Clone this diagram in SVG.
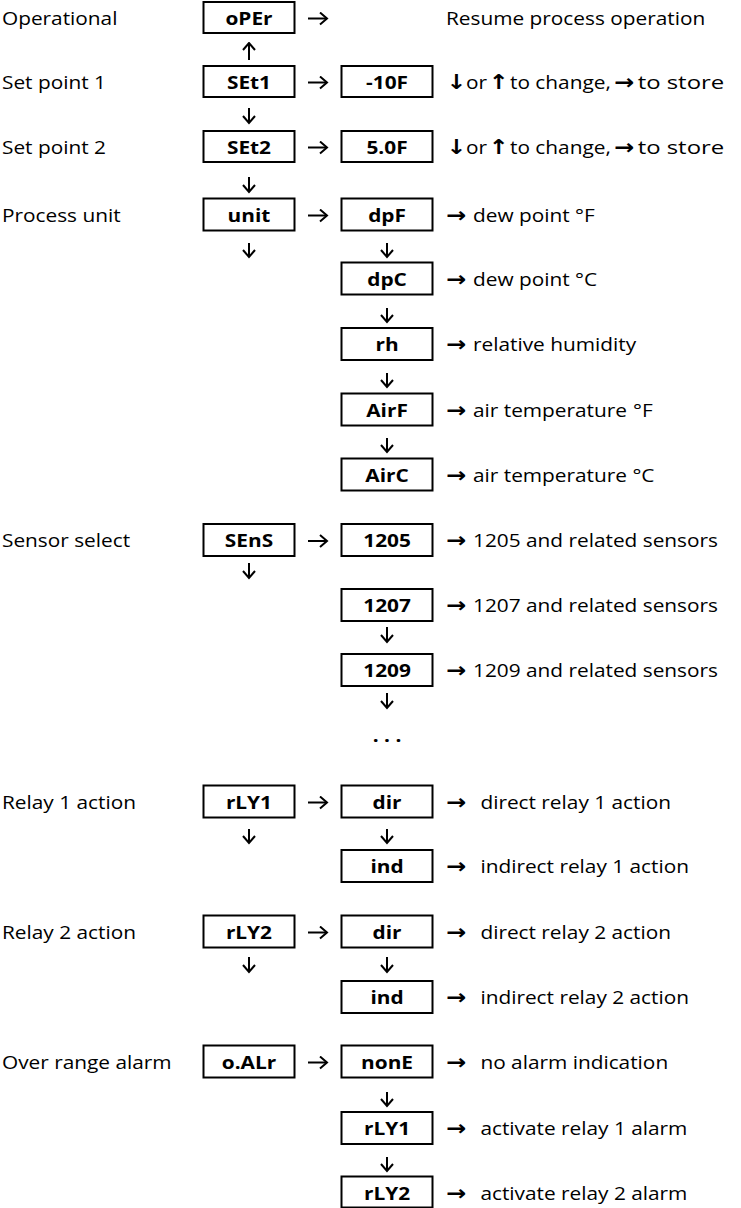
<svg xmlns="http://www.w3.org/2000/svg" width="741" height="1208" viewBox="0 0 741 1208">
<style>
.bg{fill:#fff}
.box{fill:#fff;stroke:#000;stroke-width:2}
.bt{font-family:"Open Sans","Noto Sans",sans-serif;font-weight:bold;font-size:17.8px;text-anchor:middle;fill:#000}
.lt{font-family:"Open Sans","Noto Sans",sans-serif;font-size:17.8px;fill:#000}
.ar{font-family:"DejaVu Sans",sans-serif;font-weight:bold;font-size:20.5px}
.cn{fill:none;stroke:#000;stroke-width:2;marker-end:url(#ah)}
</style>
<defs>
<marker id="ah" viewBox="0 0 10 14" refX="8.5" refY="7" markerWidth="10" markerHeight="14" orient="auto" markerUnits="userSpaceOnUse">
<path d="M1.5,1 L8.5,7 L1.5,13" fill="none" stroke="#000" stroke-width="2"/>
</marker>
</defs>
<rect class="bg" x="0" y="0" width="741" height="1208"/>

<g id="labels">
<text class="lt" transform="scale(1.17 1)" x="1.7" y="25">Operational</text>
<text class="lt" transform="scale(1.17 1)" x="1.7" y="89">Set point 1</text>
<text class="lt" transform="scale(1.17 1)" x="1.7" y="154">Set point 2</text>
<text class="lt" transform="scale(1.17 1)" x="1.7" y="222">Process unit</text>
<text class="lt" transform="scale(1.17 1)" x="1.7" y="547.5">Sensor select</text>
<text class="lt" transform="scale(1.17 1)" x="1.7" y="809">Relay 1 action</text>
<text class="lt" transform="scale(1.17 1)" x="1.7" y="939">Relay 2 action</text>
<text class="lt" transform="scale(1.17 1)" x="1.7" y="1069">Over range alarm</text>
</g>

<g id="descriptions">
<text class="lt" transform="scale(1.17 1)" x="381.2" y="25">Resume process operation</text>
<text class="lt" transform="scale(1.17 1)" y="89"><tspan class="ar" x="381.5">↓</tspan><tspan x="398.3">or</tspan><tspan class="ar" x="417.5">↑</tspan><tspan x="435.9">to change,</tspan><tspan class="ar" x="525">→</tspan><tspan x="545" textLength="74" lengthAdjust="spacingAndGlyphs">to store</tspan></text>
<text class="lt" transform="scale(1.17 1)" y="154"><tspan class="ar" x="381.5">↓</tspan><tspan x="398.3">or</tspan><tspan class="ar" x="417.5">↑</tspan><tspan x="435.9">to change,</tspan><tspan class="ar" x="525">→</tspan><tspan x="545" textLength="74" lengthAdjust="spacingAndGlyphs">to store</tspan></text>
<text class="lt" transform="scale(1.17 1)" y="222"><tspan class="ar" x="381.5">→</tspan><tspan x="404.3">dew point °F</tspan></text>
<text class="lt" transform="scale(1.17 1)" y="286"><tspan class="ar" x="381.5">→</tspan><tspan x="404.3">dew point °C</tspan></text>
<text class="lt" transform="scale(1.17 1)" y="351.5"><tspan class="ar" x="381.5">→</tspan><tspan x="404.3">relative humidity</tspan></text>
<text class="lt" transform="scale(1.17 1)" y="417"><tspan class="ar" x="381.5">→</tspan><tspan x="404.3">air temperature</tspan><tspan x="541">°F</tspan></text>
<text class="lt" transform="scale(1.17 1)" y="482"><tspan class="ar" x="381.5">→</tspan><tspan x="404.3">air temperature °C</tspan></text>
<text class="lt" transform="scale(1.17 1)" y="547.5"><tspan class="ar" x="381.5">→</tspan><tspan x="404.3">1205 and related sensors</tspan></text>
<text class="lt" transform="scale(1.17 1)" y="612.5"><tspan class="ar" x="381.5">→</tspan><tspan x="404.3">1207 and related sensors</tspan></text>
<text class="lt" transform="scale(1.17 1)" y="677.5"><tspan class="ar" x="381.5">→</tspan><tspan x="404.3">1209 and related sensors</tspan></text>
<text class="lt" transform="scale(1.17 1)" y="809"><tspan class="ar" x="381.5">→</tspan><tspan x="410.6">direct relay 1 action</tspan></text>
<text class="lt" transform="scale(1.17 1)" y="873.5"><tspan class="ar" x="381.5">→</tspan><tspan x="410.6">indirect relay 1 action</tspan></text>
<text class="lt" transform="scale(1.17 1)" y="939"><tspan class="ar" x="381.5">→</tspan><tspan x="410.6">direct relay 2 action</tspan></text>
<text class="lt" transform="scale(1.17 1)" y="1004.5"><tspan class="ar" x="381.5">→</tspan><tspan x="410.6">indirect relay 2 action</tspan></text>
<text class="lt" transform="scale(1.17 1)" y="1069"><tspan class="ar" x="381.5">→</tspan><tspan x="410.6">no alarm indication</tspan></text>
<text class="lt" transform="scale(1.17 1)" y="1135.5"><tspan class="ar" x="381.5">→</tspan><tspan x="410.6">activate relay 1 alarm</tspan></text>
<text class="lt" transform="scale(1.17 1)" y="1200"><tspan class="ar" x="381.5">→</tspan><tspan x="410.6">activate relay 2 alarm</tspan></text>
<text class="bt" transform="scale(1.17 1)" x="330.8" y="742">. . .</text>
</g>

<g id="connectors">
<path class="cn" d="M308,18.5 H327"/>
<path class="cn" d="M249,60 V43"/>
<path class="cn" d="M308,82.5 H327"/>
<path class="cn" d="M249,108 V123"/>
<path class="cn" d="M308,147.5 H327"/>
<path class="cn" d="M249,177 V192"/>
<path class="cn" d="M308,215.5 H327"/>
<path class="cn" d="M249,243 V257"/>
<path class="cn" d="M387,243 V257"/>
<path class="cn" d="M387,308 V322"/>
<path class="cn" d="M387,373 V387"/>
<path class="cn" d="M387,438 V452"/>
<path class="cn" d="M308,541 H327"/>
<path class="cn" d="M249,563 V578"/>
<path class="cn" d="M387,627 V642"/>
<path class="cn" d="M387,693 V708"/>
<path class="cn" d="M308,802.5 H327"/>
<path class="cn" d="M249,829 V843"/>
<path class="cn" d="M387,829 V843"/>
<path class="cn" d="M308,932.5 H327"/>
<path class="cn" d="M249,957 V972"/>
<path class="cn" d="M387,957 V972"/>
<path class="cn" d="M308,1062.5 H327"/>
<path class="cn" d="M387,1092 V1106"/>
<path class="cn" d="M387,1157 V1171"/>
</g>

<g id="n-oPEr"><rect class="box" x="203.5" y="2" width="91" height="31"/><text class="bt" transform="scale(1.17 1)" x="212.8" y="25">oPEr</text></g>
<g id="n-SEt1"><rect class="box" x="203.5" y="66" width="91" height="31"/><text class="bt" transform="scale(1.17 1)" x="212.8" y="89">SEt1</text></g>
<g id="n-m10F"><rect class="box" x="341.5" y="66" width="91" height="31"/><text class="bt" transform="scale(1.17 1)" x="330.8" y="89">-10F</text></g>
<g id="n-SEt2"><rect class="box" x="203.5" y="131" width="91" height="31"/><text class="bt" transform="scale(1.17 1)" x="212.8" y="154">SEt2</text></g>
<g id="n-5.0F"><rect class="box" x="341.5" y="131" width="91" height="31"/><text class="bt" transform="scale(1.17 1)" x="330.8" y="154">5.0F</text></g>
<g id="n-unit"><rect class="box" x="203.5" y="198.5" width="91" height="32"/><text class="bt" transform="scale(1.17 1)" x="212.8" y="222">unit</text></g>
<g id="n-dpF"><rect class="box" x="341.5" y="198.5" width="91" height="32"/><text class="bt" transform="scale(1.17 1)" x="330.8" y="222">dpF</text></g>
<g id="n-dpC"><rect class="box" x="341.5" y="262.5" width="91" height="32"/><text class="bt" transform="scale(1.17 1)" x="330.8" y="286">dpC</text></g>
<g id="n-rh"><rect class="box" x="341.5" y="328" width="91" height="32"/><text class="bt" transform="scale(1.17 1)" x="330.8" y="351.5">rh</text></g>
<g id="n-AirF"><rect class="box" x="341.5" y="393.5" width="91" height="32"/><text class="bt" transform="scale(1.17 1)" x="330.8" y="417">AirF</text></g>
<g id="n-AirC"><rect class="box" x="341.5" y="458.5" width="91" height="32"/><text class="bt" transform="scale(1.17 1)" x="330.8" y="482">AirC</text></g>
<g id="n-SEnS"><rect class="box" x="203.5" y="524" width="91" height="32"/><text class="bt" transform="scale(1.17 1)" x="212.8" y="547.5">SEnS</text></g>
<g id="n-1205"><rect class="box" x="341.5" y="524" width="91" height="32"/><text class="bt" transform="scale(1.17 1)" x="330.8" y="547.5">1205</text></g>
<g id="n-1207"><rect class="box" x="341.5" y="589" width="91" height="32"/><text class="bt" transform="scale(1.17 1)" x="330.8" y="612.5">1207</text></g>
<g id="n-1209"><rect class="box" x="341.5" y="654" width="91" height="32"/><text class="bt" transform="scale(1.17 1)" x="330.8" y="677.5">1209</text></g>
<g id="n-rLY1"><rect class="box" x="203.5" y="785.5" width="91" height="32"/><text class="bt" transform="scale(1.17 1)" x="212.8" y="809">rLY1</text></g>
<g id="n-dir1"><rect class="box" x="341.5" y="785.5" width="91" height="32"/><text class="bt" transform="scale(1.17 1)" x="330.8" y="809">dir</text></g>
<g id="n-ind1"><rect class="box" x="341.5" y="850" width="91" height="32"/><text class="bt" transform="scale(1.17 1)" x="330.8" y="873.5">ind</text></g>
<g id="n-rLY2"><rect class="box" x="203.5" y="915.5" width="91" height="32"/><text class="bt" transform="scale(1.17 1)" x="212.8" y="939">rLY2</text></g>
<g id="n-dir2"><rect class="box" x="341.5" y="915.5" width="91" height="32"/><text class="bt" transform="scale(1.17 1)" x="330.8" y="939">dir</text></g>
<g id="n-ind2"><rect class="box" x="341.5" y="981" width="91" height="32"/><text class="bt" transform="scale(1.17 1)" x="330.8" y="1004.5">ind</text></g>
<g id="n-oALr"><rect class="box" x="203.5" y="1045.5" width="91" height="32"/><text class="bt" transform="scale(1.17 1)" x="212.8" y="1069">o.ALr</text></g>
<g id="n-nonE"><rect class="box" x="341.5" y="1045.5" width="91" height="32"/><text class="bt" transform="scale(1.17 1)" x="330.8" y="1069">nonE</text></g>
<g id="n-rLY1b"><rect class="box" x="341.5" y="1112" width="91" height="32"/><text class="bt" transform="scale(1.17 1)" x="330.8" y="1135.5">rLY1</text></g>
<g id="n-rLY2b"><rect class="box" x="341.5" y="1176.5" width="91" height="31"/><text class="bt" transform="scale(1.17 1)" x="330.8" y="1200">rLY2</text></g>
</svg>
